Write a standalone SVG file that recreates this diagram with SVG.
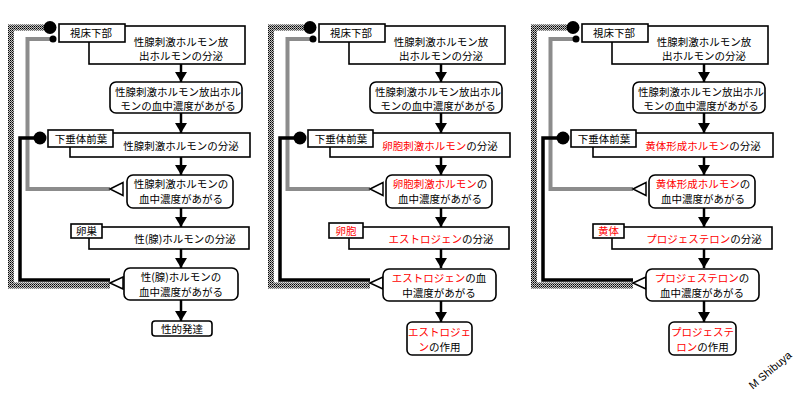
<svg xmlns="http://www.w3.org/2000/svg" width="800" height="400" viewBox="0 0 800 400">
<defs>
<pattern id="chk" width="2" height="2" patternUnits="userSpaceOnUse"><rect width="2" height="2" fill="#c4c4c4" shape-rendering="crispEdges"/><rect width="1" height="1" fill="#000" shape-rendering="crispEdges"/><rect x="1" y="1" width="1" height="1" fill="#444" shape-rendering="crispEdges"/></pattern>
<marker id="ah" markerUnits="userSpaceOnUse" markerWidth="10" markerHeight="12" viewBox="0 0 10 12" refX="10" refY="6" orient="auto"><path d="M0,0 L10,6 L0,12 z" fill="#000"/></marker>
</defs>
<style>
text{font-family:"Noto Sans CJK JP","Noto Sans CJK SC",sans-serif;font-size:10.5px;fill:#000;text-anchor:middle}
.r{fill:#f00}
.box{fill:#fff;stroke:#000;stroke-width:1.6}
.chk{fill:none;stroke:url(#chk);stroke-width:6}
.blk{fill:none;stroke:#000;stroke-width:3.5}
.gry{fill:none;stroke:#8c8c8c;stroke-width:4}
.arr{stroke:#000;stroke-width:2.5;marker-end:url(#ah)}
.tri{fill:#fff;stroke:#000;stroke-width:1.5}
.sig{font-family:"Liberation Sans",Arial,sans-serif;font-size:11px;fill:#000}
</style>

<!-- Panel 1 -->
<g id="panel1">
<g id="p1-connectors">
<path class="chk" d="M44,27.5 H11 V285.5 H110"/>
<path class="gry" d="M52,39 H27.5 V189 H110"/>
<path class="blk" d="M36,138 H20 V280 H110"/>
<circle cx="50" cy="27.5" r="6.5"/>
<circle cx="53" cy="39" r="3.5"/>
<circle cx="40" cy="138" r="6.5"/>
<polygon class="tri" points="110,189 123,182.5 123,195.5"/>
<polygon class="tri" points="110,283 123,277 123,289"/>
<line class="arr" x1="181" y1="64" x2="181" y2="82"/>
<line class="arr" x1="181" y1="113" x2="181" y2="133"/>
<line class="arr" x1="181" y1="157" x2="181" y2="175"/>
<line class="arr" x1="181" y1="208" x2="181" y2="227"/>
<line class="arr" x1="181" y1="249" x2="181" y2="268"/>
<line class="arr" x1="181" y1="300" x2="181" y2="321"/>
</g>
<g id="p1-n1"><rect class="box" x="89" y="26" width="156" height="38"/><text x="181" y="45.5">性腺刺激ホルモン放</text><text x="181" y="60">出ホルモンの分泌</text></g>
<g id="p1-hypo"><rect class="box" x="59" y="24" width="66" height="18"/><text x="91" y="37">視床下部</text></g>
<g id="p1-n2"><rect class="box" x="110" y="82" width="132" height="31" rx="6"/><text x="178" y="95.5">性腺刺激ホルモン放出ホル</text><text x="178" y="110">モンの血中濃度があがる</text></g>
<g id="p1-n3"><rect class="box" x="70" y="133" width="180" height="24"/><text x="181" y="149.5">性腺刺激ホルモンの分泌</text></g>
<g id="p1-pit"><rect class="box" x="48" y="130" width="65" height="17"/><text x="81" y="142.5">下垂体前葉</text></g>
<g id="p1-n4"><rect class="box" x="127" y="175" width="106" height="33" rx="6"/><text x="181" y="188">性腺刺激ホルモンの</text><text x="181" y="203">血中濃度があがる</text></g>
<g id="p1-n5"><rect class="box" x="89" y="227" width="160" height="22"/><text x="185" y="242.5">性(腺)ホルモンの分泌</text></g>
<g id="p1-ov"><rect class="box" x="71" y="224" width="31" height="14"/><text x="86.5" y="234.5">卵巣</text></g>
<g id="p1-n6"><rect class="box" x="124" y="268" width="114" height="32" rx="6"/><text x="181" y="281">性(腺)ホルモンの</text><text x="181" y="296">血中濃度があがる</text></g>
<g id="p1-n7"><rect class="box" x="152" y="321" width="60" height="15" rx="3"/><text x="182" y="332.5">性的発達</text></g>
</g>

<!-- Panel 2 -->
<g id="panel2" transform="translate(260,0)">
<g id="p2-connectors">
<path class="chk" d="M44,27.5 H11 V285.5 H110"/>
<path class="gry" d="M52,39 H27.5 V189 H110"/>
<path class="blk" d="M36,138 H20 V280 H110"/>
<circle cx="50" cy="27.5" r="6.5"/>
<circle cx="53" cy="39" r="3.5"/>
<circle cx="40" cy="138" r="6.5"/>
<polygon class="tri" points="110,189 123,182.5 123,195.5"/>
<polygon class="tri" points="110,283 123,277 123,289"/>
<line class="arr" x1="181" y1="64" x2="181" y2="82"/>
<line class="arr" x1="181" y1="113" x2="181" y2="133"/>
<line class="arr" x1="181" y1="157" x2="181" y2="175"/>
<line class="arr" x1="181" y1="208" x2="181" y2="227"/>
<line class="arr" x1="181" y1="249" x2="181" y2="268"/>
<line class="arr" x1="181" y1="300" x2="181" y2="322"/>
</g>
<g id="p2-n1"><rect class="box" x="89" y="26" width="156" height="38"/><text x="181" y="45.5">性腺刺激ホルモン放</text><text x="181" y="60">出ホルモンの分泌</text></g>
<g id="p2-hypo"><rect class="box" x="59" y="24" width="66" height="18"/><text x="91" y="37">視床下部</text></g>
<g id="p2-n2"><rect class="box" x="110" y="82" width="132" height="31" rx="6"/><text x="178" y="95.5">性腺刺激ホルモン放出ホル</text><text x="178" y="110">モンの血中濃度があがる</text></g>
<g id="p2-n3"><rect class="box" x="70" y="133" width="180" height="24"/><text x="180" y="149.5"><tspan class="r">卵胞刺激ホルモン</tspan>の分泌</text></g>
<g id="p2-pit"><rect class="box" x="48" y="130" width="65" height="17"/><text x="81" y="142.5">下垂体前葉</text></g>
<g id="p2-n4"><rect class="box" x="126" y="175" width="106" height="33" rx="6"/><text x="180" y="188"><tspan class="r">卵胞刺激ホルモン</tspan>の</text><text x="180" y="203">血中濃度があがる</text></g>
<g id="p2-n5"><rect class="box" x="89" y="227" width="160" height="22"/><text x="181" y="242.5"><tspan class="r">エストロジェン</tspan>の分泌</text></g>
<g id="p2-ov"><rect class="box" x="69" y="223" width="34" height="15"/><text x="86" y="234.5" class="r">卵胞</text></g>
<g id="p2-n6"><rect class="box" x="123" y="269" width="113" height="32" rx="6"/><text x="179" y="282"><tspan class="r">エストロジェン</tspan>の血</text><text x="179" y="297">中濃度があがる</text></g>
<g id="p2-n7"><rect class="box" x="147" y="322" width="65" height="33" rx="5"/><text x="179.5" y="335.5" class="r">エストロジェ</text><text x="179.5" y="350.5"><tspan class="r">ン</tspan>の作用</text></g>
</g>

<!-- Panel 3 -->
<g id="panel3" transform="translate(523,0)">
<g id="p3-connectors">
<path class="chk" d="M44,27.5 H11 V285.5 H110"/>
<path class="gry" d="M52,39 H27.5 V189 H110"/>
<path class="blk" d="M36,138 H20 V280 H110"/>
<circle cx="50" cy="27.5" r="6.5"/>
<circle cx="53" cy="39" r="3.5"/>
<circle cx="40" cy="138" r="6.5"/>
<polygon class="tri" points="110,189 123,182.5 123,195.5"/>
<polygon class="tri" points="110,283 123,277 123,289"/>
<line class="arr" x1="181" y1="64" x2="181" y2="82"/>
<line class="arr" x1="181" y1="113" x2="181" y2="133"/>
<line class="arr" x1="181" y1="157" x2="181" y2="175"/>
<line class="arr" x1="181" y1="208" x2="181" y2="227"/>
<line class="arr" x1="181" y1="249" x2="181" y2="268"/>
<line class="arr" x1="181" y1="300" x2="181" y2="322"/>
</g>
<g id="p3-n1"><rect class="box" x="89" y="26" width="156" height="38"/><text x="181" y="45.5">性腺刺激ホルモン放</text><text x="181" y="60">出ホルモンの分泌</text></g>
<g id="p3-hypo"><rect class="box" x="59" y="24" width="66" height="18"/><text x="91" y="37">視床下部</text></g>
<g id="p3-n2"><rect class="box" x="110" y="82" width="132" height="31" rx="6"/><text x="178" y="95.5">性腺刺激ホルモン放出ホル</text><text x="178" y="110">モンの血中濃度があがる</text></g>
<g id="p3-n3"><rect class="box" x="70" y="133" width="180" height="24"/><text x="180" y="149.5"><tspan class="r">黄体形成ホルモン</tspan>の分泌</text></g>
<g id="p3-pit"><rect class="box" x="48" y="130" width="65" height="17"/><text x="81" y="142.5">下垂体前葉</text></g>
<g id="p3-n4"><rect class="box" x="126" y="175" width="106" height="33" rx="6"/><text x="180" y="188"><tspan class="r">黄体形成ホルモン</tspan>の</text><text x="180" y="203">血中濃度があがる</text></g>
<g id="p3-n5"><rect class="box" x="89" y="227" width="160" height="22"/><text x="181" y="242.5"><tspan class="r">プロジェステロン</tspan>の分泌</text></g>
<g id="p3-ov"><rect class="box" x="70" y="224" width="31" height="14"/><text x="85.5" y="234.5" class="r">黄体</text></g>
<g id="p3-n6"><rect class="box" x="123" y="269" width="113" height="32" rx="6"/><text x="179" y="282"><tspan class="r">プロジェステロン</tspan>の</text><text x="179" y="297">血中濃度があがる</text></g>
<g id="p3-n7"><rect class="box" x="146" y="322" width="67" height="33" rx="5"/><text x="179.5" y="335.5" class="r">プロジェステ</text><text x="179.5" y="350.5"><tspan class="r">ロン</tspan>の作用</text></g>
</g>

<text class="sig" x="770" y="374" transform="rotate(-40 770 370)">M Shibuya</text>
</svg>
